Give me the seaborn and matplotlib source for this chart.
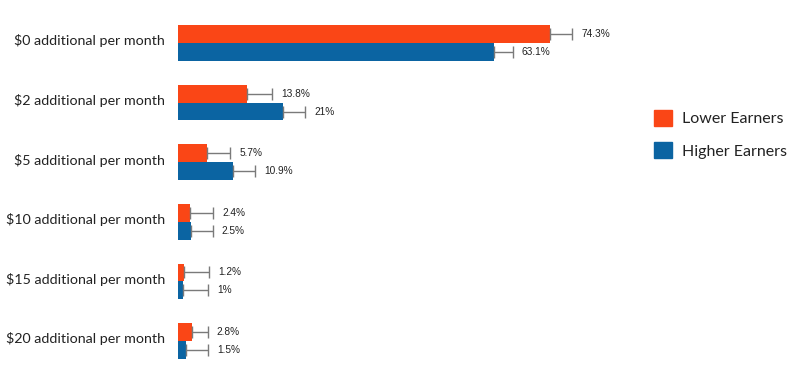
import numpy as np
import pandas as pd
import matplotlib
matplotlib.use("Agg")
import matplotlib.pyplot as plt
import matplotlib.transforms as mtransforms
import seaborn as sns

# data
categories = ["$0 additional per month", "$2 additional per month", "$5 additional per month",
              "$10 additional per month", "$15 additional per month", "$20 additional per month"]
groups = ["Lower Earners", "Higher Earners"]
lower = [74.3, 13.8, 5.7, 2.4, 1.2, 2.8]
higher = [63.1, 21.0, 10.9, 2.5, 1.0, 1.5]
lower_err = [4.5, 4.9, 4.7, 4.6, 4.9, 3.1]
higher_err = [3.8, 4.4, 4.4, 4.4, 4.9, 4.5]
lower_lbl = ["74.3%", "13.8%", "5.7%", "2.4%", "1.2%", "2.8%"]
higher_lbl = ["63.1%", "21%", "10.9%", "2.5%", "1%", "1.5%"]

colors = ["#FA4616", "#0B64A2"]

df = pd.DataFrame({
    "option": categories * 2,
    "group": [groups[0]] * len(categories) + [groups[1]] * len(categories),
    "value": lower + higher,
})

sns.set_style("white")
plt.rcParams["font.family"] = ["Lato", "DejaVu Sans"]

fig = plt.figure(figsize=(8, 3.65), dpi=100)
ax = fig.add_axes([178.3 / 800, 0, 441.7 / 800, 1])

sns.barplot(data=df, y="option", x="value", hue="group", hue_order=groups,
            order=categories, palette=colors, width=0.6, orient="h",
            errorbar=None, saturation=1, legend=False, linewidth=0, ax=ax)

errs = [lower_err, higher_err]
lbls = [lower_lbl, higher_lbl]
for cont, err, lbl in zip(ax.containers, errs, lbls):
    ys = [b.get_y() + b.get_height() / 2 for b in cont]
    ws = [b.get_width() for b in cont]
    ax.errorbar(ws, ys, xerr=[np.zeros(len(ws)), err], fmt="none",
                ecolor="#7a7a7a", elinewidth=1, capsize=4, capthick=1)
    for w, y, e, t in zip(ws, ys, err, lbl):
        ax.text(w + e + 1.8, y, t, va="center", ha="left", fontsize=7.3,
                family=["Liberation Sans", "DejaVu Sans"], color="#222222")

ax.set_xlim(0, 441.7 / 5.0)
ax.set_ylim(5.403, -0.7215)
ax.set_xlabel("")
ax.set_ylabel("")
ax.set_xticks([])
ax.tick_params(axis="y", length=0, pad=9.4, labelsize=10.3, labelcolor="#222222")
# nudge category labels up a little, as in the original
shift = mtransforms.ScaledTranslation(0, 3 / 100, fig.dpi_scale_trans)
for lab in ax.get_yticklabels():
    lab.set_transform(lab.get_transform() + shift)
sns.despine(ax=ax, left=True, bottom=True)

handles = [plt.Rectangle((0, 0), 1, 1, color=c) for c in colors]
fig.legend(handles, groups, loc="upper left", bbox_to_anchor=(640 / 800, 1 - 96 / 365),
           frameon=False, handlelength=1.1, handleheight=1.1, handletextpad=0.6,
           labelspacing=1.0, fontsize=11.5, labelcolor="#222222")

fig.savefig("out.png", dpi=100)
